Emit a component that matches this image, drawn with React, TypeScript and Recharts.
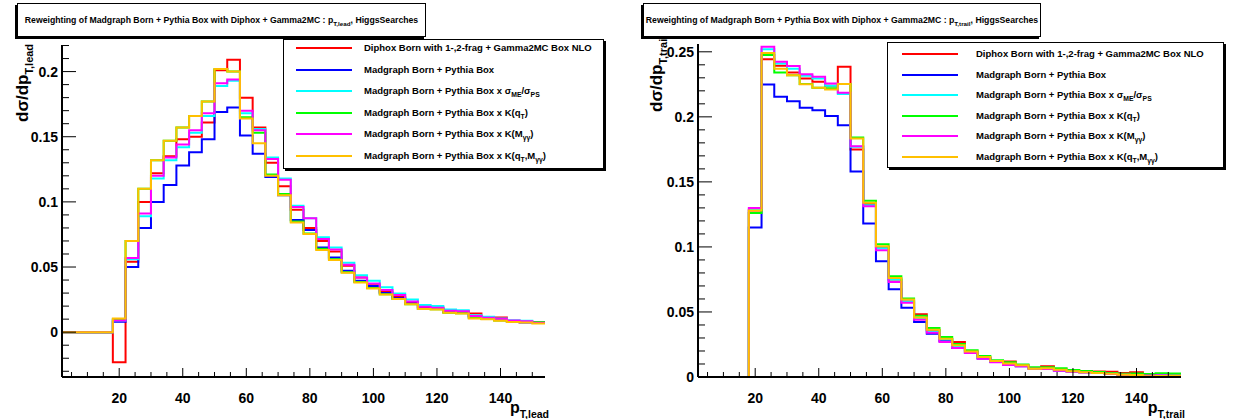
import React from 'react';
import { LineChart, Line, XAxis, YAxis } from 'recharts';

// lower bin edges (GeV); last bin closes at 154
const binLow = [2, 6, 10, 14, 18, 22, 26, 30, 34, 38, 42, 46, 50, 54, 58, 62, 66, 70, 74, 78,
  82, 86, 90, 94, 98, 102, 106, 110, 114, 118, 122, 126, 130, 134, 138, 142, 146, 150];
const xMax = 154;

const seriesKeys = ['diphox', 'madgraph', 'sigma', 'kqt', 'kmgg', 'kqtm'];
const seriesColors = ['#ff0000', '#0000ff', '#00ffff', '#00ff00', '#ff00ff', '#ffc000'];
const seriesLabels = [
  'Diphox Born with 1-,2-frag + Gamma2MC Box NLO',
  'Madgraph Born + Pythia Box',
  'Madgraph Born + Pythia Box x σ_{ME}/σ_{PS}',
  'Madgraph Born + Pythia Box x K(q_{T})',
  'Madgraph Born + Pythia Box x K(M_{γγ})',
  'Madgraph Born + Pythia Box x K(q_{T},M_{γγ})',
];

// leading photon pT
const leadDiphox = [0, 0, 0, 0, -0.023, 0.054, 0.100, 0.122, 0.135, 0.148, 0.150, 0.161, 0.201, 0.209,
  0.180, 0.157, 0.130, 0.112, 0.094, 0.080, 0.070, 0.062, 0.051, 0.042, 0.036, 0.031, 0.027, 0.023,
  0.019, 0.019, 0.016, 0.016, 0.0144, 0.011, 0.0113, 0.0085, 0.008, 0.0072];
const leadMadgraph = [0, 0, 0, 0, 0.008, 0.050, 0.080, 0.100, 0.113, 0.128, 0.138, 0.148, 0.169, 0.1725,
  0.151, 0.137, 0.119, 0.105, 0.086, 0.0785, 0.065, 0.0574, 0.0472, 0.0395, 0.0354, 0.030, 0.026, 0.022,
  0.018, 0.018, 0.0155, 0.015, 0.012, 0.0105, 0.0095, 0.0082, 0.0075, 0.007];
const leadSigma = [0, 0, 0, 0, 0.009, 0.056, 0.089, 0.118, 0.132, 0.142, 0.153, 0.166, 0.189, 0.193,
  0.168, 0.156, 0.134, 0.118, 0.097, 0.0874, 0.0728, 0.0649, 0.0533, 0.0436, 0.0395, 0.0344, 0.0297, 0.025,
  0.0208, 0.020, 0.0174, 0.0169, 0.013, 0.0118, 0.0105, 0.0092, 0.0087, 0.0075];
const leadKqt = [0, 0, 0, 0, 0.010, 0.070, 0.110, 0.132, 0.147, 0.157, 0.166, 0.177, 0.202, 0.200,
  0.165, 0.153, 0.121, 0.106, 0.085, 0.0757, 0.064, 0.056, 0.046, 0.0385, 0.034, 0.0292, 0.0255, 0.0215,
  0.0178, 0.0176, 0.015, 0.0146, 0.011, 0.0102, 0.009, 0.008, 0.0078, 0.0079];
const leadKmgg = [0, 0, 0, 0, 0.009, 0.057, 0.091, 0.120, 0.134, 0.144, 0.155, 0.168, 0.191, 0.194,
  0.170, 0.155, 0.133, 0.117, 0.096, 0.0874, 0.0715, 0.0635, 0.0518, 0.042, 0.0374, 0.0323, 0.0285, 0.0235,
  0.0195, 0.0188, 0.0165, 0.016, 0.0125, 0.011, 0.0103, 0.009, 0.0083, 0.0073];
const leadKqtm = [0, 0, 0, 0, 0.0105, 0.070, 0.110, 0.132, 0.147, 0.157, 0.166, 0.177, 0.202, 0.200,
  0.164, 0.145, 0.120, 0.105, 0.0841, 0.0754, 0.063, 0.0554, 0.0456, 0.0382, 0.0336, 0.029, 0.0254, 0.0215,
  0.0177, 0.0174, 0.0149, 0.0144, 0.0105, 0.010, 0.0087, 0.0079, 0.0075, 0.0067];

// trailing photon pT
const trailDiphox = [0, 0, 0, 0, 0.128, 0.2442, 0.2393, 0.234, 0.2295, 0.227, 0.224, 0.2385, 0.1749, 0.133,
  0.100, 0.075, 0.058, 0.0482, 0.036, 0.029, 0.0269, 0.0195, 0.015, 0.0123, 0.012, 0.009, 0.007, 0.0082,
  0.0058, 0.0048, 0.004, 0.0042, 0.0041, 0.0031, 0.0036, 0.0018, 0.0022, 0.0015];
const trailMadgraph = [0, 0, 0, 0, 0.115, 0.2249, 0.2154, 0.212, 0.207, 0.205, 0.2006, 0.1936, 0.158, 0.118,
  0.089, 0.0674, 0.0533, 0.0423, 0.0333, 0.0274, 0.0223, 0.0185, 0.0142, 0.0115, 0.0095, 0.0083, 0.0065, 0.0066,
  0.005, 0.0042, 0.0036, 0.0031, 0.0026, 0.002, 0.0018, 0.0012, 0.0016, 0.0012];
const trailSigma = [0, 0, 0, 0, 0.129, 0.252, 0.241, 0.237, 0.2315, 0.2295, 0.224, 0.2175, 0.177, 0.132,
  0.099, 0.075, 0.058, 0.045, 0.035, 0.029, 0.023, 0.019, 0.0145, 0.0118, 0.0097, 0.0085, 0.0066, 0.0068,
  0.0051, 0.0043, 0.0037, 0.0032, 0.0027, 0.0021, 0.0019, 0.0014, 0.0017, 0.0014];
const trailKqt = [0, 0, 0, 0, 0.126, 0.2475, 0.234, 0.232, 0.2252, 0.2223, 0.222, 0.2252, 0.1841, 0.1354,
  0.1021, 0.0775, 0.0603, 0.047, 0.0377, 0.0308, 0.0254, 0.0205, 0.0162, 0.0128, 0.0113, 0.0097, 0.0074, 0.0074,
  0.0067, 0.0054, 0.0046, 0.0038, 0.0028, 0.0025, 0.0026, 0.0023, 0.0028, 0.0026];
const trailKmgg = [0, 0, 0, 0, 0.130, 0.2538, 0.2423, 0.239, 0.2328, 0.2308, 0.2257, 0.2185, 0.1774, 0.1313,
  0.0975, 0.0731, 0.057, 0.044, 0.0341, 0.027, 0.0223, 0.0185, 0.0141, 0.0113, 0.0092, 0.0082, 0.0063, 0.0062,
  0.0049, 0.004, 0.0034, 0.003, 0.0024, 0.0018, 0.0016, 0.0011, 0.0013, 0.001];
const trailKqtm = [0, 0, 0, 0, 0.128, 0.249, 0.237, 0.232, 0.225, 0.2223, 0.221, 0.2252, 0.1833, 0.134,
  0.1005, 0.0762, 0.0595, 0.0457, 0.0364, 0.0295, 0.0244, 0.0197, 0.0154, 0.0123, 0.0103, 0.009, 0.0064, 0.0067,
  0.0056, 0.0044, 0.0036, 0.0031, 0.0025, 0.0018, 0.0015, 0.0005, 0.0008, 0.001];

const xTicks = [5, 10, 15, 20, 25, 30, 35, 40, 45, 50, 55, 60, 65, 70, 75, 80, 85, 90, 95, 100,
  105, 110, 115, 120, 125, 130, 135, 140, 145, 150];
const leadYTicks = [-0.03, -0.02, -0.01, 0, 0.01, 0.02, 0.03, 0.04, 0.05, 0.06, 0.07, 0.08, 0.09, 0.1,
  0.11, 0.12, 0.13, 0.14, 0.15, 0.16, 0.17, 0.18, 0.19, 0.2, 0.21, 0.22];
const trailYTicks = [0, 0.01, 0.02, 0.03, 0.04, 0.05, 0.06, 0.07, 0.08, 0.09, 0.1, 0.11, 0.12, 0.13,
  0.14, 0.15, 0.16, 0.17, 0.18, 0.19, 0.2, 0.21, 0.22, 0.23, 0.24, 0.25];

const FONT = '"Liberation Sans", Arial, Helvetica, sans-serif';

// histogram rows for stepAfter lines: one point per lower edge, plus closing edge
function buildRows(series: number[][]) {
  const rows = binLow.map((x, i) => {
    const r: any = { x };
    seriesKeys.forEach((k, s) => (r[k] = series[s][i]));
    return r;
  });
  const last: any = { x: xMax };
  seriesKeys.forEach((k, s) => (last[k] = series[s][series[s].length - 1]));
  rows.push(last);
  return rows;
}

const isMajor = (v: number, step: number) => Math.abs(v / step - Math.round(v / step)) < 1e-6;
const fmt = (v: number) => String(Number(v.toFixed(2)));

// text with _{sub} markup -> html spans
function Rich({ text, subSize = '72%', drop = '0.45em' }: { text: string; subSize?: string; drop?: string }) {
  const parts = text.split(/(_\{[^}]*\})/);
  return (
    <>
      {parts.map((p, i) =>
        p.startsWith('_{') ? (
          <span key={i} style={{ fontSize: subSize, position: 'relative', top: drop }}>{p.slice(2, -1)}</span>
        ) : (
          <span key={i}>{p}</span>
        )
      )}
    </>
  );
}

function Panel({ series, yDomain, yTicks, plotLeft, plotTop, plotRight, xName, yName, title, titleBox, legendBox }: any) {
  const W = 620;
  const H = 419;
  const plotBottom = 377;
  const rows = buildRows(series);

  const YTick = (p: any) => {
    const v = p.payload.value;
    const major = isMajor(v, 0.05);
    return (
      <g>
        <line x1={plotLeft} x2={plotLeft + (major ? 14 : 7)} y1={p.y} y2={p.y} stroke="#000" strokeWidth={1} />
        {major && (
          <text x={plotLeft - 4} y={p.y} textAnchor="end" dominantBaseline="central"
            fontFamily={FONT} fontWeight="bold" fontSize={14} fill="#000">{fmt(v)}</text>
        )}
      </g>
    );
  };
  const XTick = (p: any) => {
    const v = p.payload.value;
    const major = v % 20 === 0;
    return (
      <g>
        <line x1={p.x} x2={p.x} y1={plotBottom} y2={plotBottom - (major ? 9 : 5)} stroke="#000" strokeWidth={1} />
        {major && (
          <text x={p.x} y={plotBottom + 21} textAnchor="middle" dominantBaseline="central"
            fontFamily={FONT} fontWeight="bold" fontSize={14} fill="#000">{v}</text>
        )}
      </g>
    );
  };

  return (
    <div style={{ position: 'relative', width: W, height: H }}>
      <LineChart width={W} height={H} data={rows}
        margin={{ top: plotTop, right: W - plotRight, bottom: H - plotBottom - 30, left: 0 }}>
        <XAxis dataKey="x" type="number" domain={[2, xMax]} allowDataOverflow ticks={xTicks} interval={0}
          height={30} tickLine={false} tick={XTick} axisLine={{ stroke: '#000', strokeWidth: 2 }} />
        <XAxis xAxisId="top" orientation="top" dataKey="x" type="number" domain={[2, xMax]} height={0}
          tick={false} tickLine={false} axisLine={{ stroke: '#000', strokeWidth: 2 }} />
        <YAxis type="number" domain={yDomain} allowDataOverflow ticks={yTicks} interval={0} width={plotLeft}
          tickLine={false} tick={YTick} axisLine={{ stroke: '#000', strokeWidth: 2 }} />
        <YAxis yAxisId="right" orientation="right" type="number" domain={yDomain} width={0}
          tick={false} tickLine={false} axisLine={{ stroke: '#000', strokeWidth: 2 }} />
        {seriesKeys.map((k, i) => (
          <Line key={k} type="stepAfter" dataKey={k} stroke={seriesColors[i]} strokeWidth={2}
            dot={false} activeDot={false} isAnimationActive={false} />
        ))}
      </LineChart>

      <svg width={W} height={H} style={{ position: 'absolute', left: 0, top: 0, pointerEvents: 'none' }}>
        <text transform={`translate(${yName.x},${yName.y}) rotate(-90)`} fontFamily={FONT} fontWeight="bold" fontSize={17}>
          dσ/dp<tspan fontSize={11} dy={5}>{yName.sub}</tspan>
        </text>
        <text x={plotRight + 4} y={413} textAnchor="end" fontFamily={FONT} fontWeight="bold" fontSize={16}>
          p<tspan fontSize={10.5} dy={5}>{xName}</tspan>
        </text>
      </svg>

      <div style={{
        position: 'absolute', left: titleBox.left, top: 3, width: titleBox.width, height: 32,
        border: '1px solid #000', boxShadow: '-2px 2px 0 #000', background: '#fff',
        display: 'flex', alignItems: 'center', justifyContent: 'center',
        fontFamily: FONT, fontWeight: 'bold', fontSize: 8.7, whiteSpace: 'nowrap',
      }}>
        <span><Rich text={title} /></span>
      </div>

      <div style={{
        position: 'absolute', left: legendBox.left, top: legendBox.top, width: legendBox.width,
        height: legendBox.height, border: '1px solid #000', boxShadow: '2px 2px 0 #000', background: '#fff',
        fontFamily: FONT, fontWeight: 'bold', fontSize: 9.5, whiteSpace: 'nowrap',
      }}>
        {seriesLabels.map((lab, i) => (
          <div key={i} style={{ position: 'absolute', left: 0, top: legendBox.row0 + i * legendBox.rowStep - 7, height: 14 }}>
            <div style={{ position: 'absolute', left: legendBox.lineX, width: 56, height: 2, top: 6, background: seriesColors[i] }} />
            <div style={{ position: 'absolute', left: legendBox.textX, top: 0, lineHeight: '14px' }}>
              <Rich text={lab} />
            </div>
          </div>
        ))}
      </div>
    </div>
  );
}

export default function App() {
  return (
    <div style={{ position: 'absolute', left: 0, top: 0, width: 1240, height: 419, background: '#fff', display: 'flex' }}>
      <Panel
        series={[leadDiphox, leadMadgraph, leadSigma, leadKqt, leadKmgg, leadKqtm]}
        yDomain={[-0.0344, 0.2204]}
        yTicks={leadYTicks}
        plotLeft={62}
        plotTop={45}
        plotRight={545}
        xName="T,lead"
        yName={{ x: 28, y: 122, sub: 'T,lead' }}
        title="Reweighting of Madgraph Born + Pythia Box with Diphox + Gamma2MC : p_{T,lead}, HiggsSearches"
        titleBox={{ left: 17, width: 407 }}
        legendBox={{ left: 283, top: 39, width: 319, height: 128, row0: 8, rowStep: 21.6, lineX: 12, textX: 80 }}
      />
      <Panel
        series={[trailDiphox, trailMadgraph, trailSigma, trailKqt, trailKmgg, trailKqtm]}
        yDomain={[0, 0.256]}
        yTicks={trailYTicks}
        plotLeft={78}
        plotTop={44}
        plotRight={561}
        xName="T,trail"
        yName={{ x: 42, y: 112, sub: 'T,trail' }}
        title="Reweighting of Madgraph Born + Pythia Box with Diphox + Gamma2MC : p_{T,trail}, HiggsSearches"
        titleBox={{ left: 23, width: 396 }}
        legendBox={{ left: 267, top: 42, width: 335, height: 124, row0: 11, rowStep: 20.6, lineX: 14, textX: 88 }}
      />
    </div>
  );
}
